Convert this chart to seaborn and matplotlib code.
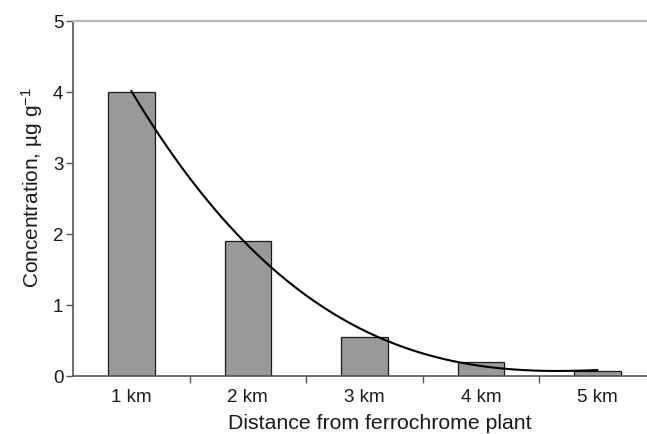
import numpy as np
import pandas as pd
import matplotlib
matplotlib.use('Agg')
import matplotlib.pyplot as plt
import seaborn as sns

# Данные
distances = ['1 km', '2 km', '3 km', '4 km', '5 km']
concentration = [4.0, 1.9, 0.55, 0.2, 0.07]

df = pd.DataFrame({'distance': distances, 'conc': concentration})

sns.set_style('ticks')
plt.rcParams['font.family'] = ['Liberation Sans', 'DejaVu Sans']
plt.rcParams['mathtext.fontset'] = 'custom'
plt.rcParams['mathtext.rm'] = 'Liberation Sans'
plt.rcParams['mathtext.it'] = 'Liberation Sans'

fig = plt.figure(figsize=(6.47, 4.34), dpi=100)
ax = fig.add_axes([0.1128, 0.1336, 0.901, 0.818])

sns.barplot(data=df, x='distance', y='conc', color='#999999', saturation=1,
            width=0.4, edgecolor='#1a1a1a', linewidth=0.9, ax=ax)

# Полиномиальный тренд 3-й степени по значениям столбцов
idx = np.arange(len(concentration))
coef = np.polyfit(idx, concentration, 3)
xs = np.linspace(0, len(concentration) - 1, 200)
ax.plot(xs, np.polyval(coef, xs), color='black', lw=1.5)

ax.set_xlim(-0.5, 4.5)
ax.set_ylim(0, 5)
ax.set_yticks([0, 1, 2, 3, 4, 5])
ax.set_xticks([0.5, 1.5, 2.5, 3.5], minor=True)
ax.tick_params(axis='x', which='major', length=0, labelsize=13.5, pad=9, colors='#1a1a1a')
ax.tick_params(axis='x', which='minor', length=5, width=1, color='#555555')
ax.tick_params(axis='y', length=5, width=1, pad=2, labelsize=13.5, color='#555555', labelcolor='#1a1a1a')

for side in ['left', 'bottom']:
    ax.spines[side].set_color('#555555')
    ax.spines[side].set_linewidth(1.2)
ax.spines['top'].set_color('#b5b5b5')
ax.spines['top'].set_linewidth(1.5)
ax.spines['right'].set_visible(False)

ax.set_xlabel('Distance from ferrochrome plant', fontsize=15.3, color='#1a1a1a')
ax.set_ylabel('Concentration, µg g$^{-1}$', fontsize=15, color='#1a1a1a')
ax.xaxis.set_label_coords(0.527, -0.108)
ax.yaxis.set_label_coords(-0.048, 0.53)

fig.savefig('out.png', dpi=100)
